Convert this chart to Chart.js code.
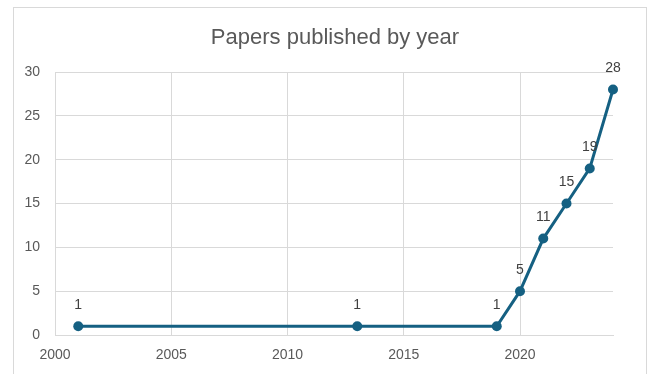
<!DOCTYPE html>
<html>
<head>
<meta charset="utf-8">
<script src="https://cdn.jsdelivr.net/npm/chart.js@4.4.1/dist/chart.umd.min.js"></script>
<style>
    html, body { margin: 0; padding: 0; background: #ffffff; }
    #wrap { width: 653px; height: 374px; }
</style>
</head>
<body>
<div id="wrap"><canvas id="papers-by-year"></canvas></div>
<script>
const years  = [2001, 2013, 2019, 2020, 2021, 2022, 2023, 2024];
const papers = [1, 1, 1, 5, 11, 15, 19, 28];

const chartTitle = 'Papers published by year';

const colors = {
    'line'  : '#156082',
    'grid'  : '#d9d9d9',
    'tick'  : '#595959',
    'label' : '#404040',
    'frame' : '#d9d9d9'
};

// frame round the whole chart plus the title, drawn by hand so it can sit off-centre
const chartFrame = {
    id: 'chartFrame',
    beforeDraw(chart) {
        const ctx = chart.ctx;
        ctx.save();
        ctx.strokeStyle = colors['frame'];
        ctx.lineWidth = 1;
        ctx.strokeRect(13.5, 7.5, 633, 420);

        ctx.fillStyle = colors['tick'];
        ctx.font = '22px "Liberation Sans", Arial, sans-serif';
        ctx.textAlign = 'center';
        ctx.textBaseline = 'alphabetic';
        ctx.fillText(chartTitle, 335, 44);
        ctx.restore();
    }
};

// value written above each point
const pointValues = {
    id: 'pointValues',
    afterDatasetsDraw(chart) {
        const ctx = chart.ctx;
        const meta = chart.getDatasetMeta(0);
        ctx.save();
        ctx.fillStyle = colors['label'];
        ctx.font = '14px "Liberation Sans", Arial, sans-serif';
        ctx.textAlign = 'center';
        ctx.textBaseline = 'middle';
        meta.data.forEach((pt, i) => {
            ctx.fillText(String(papers[i]), pt.x, pt.y - 21);
        });
        ctx.restore();
    }
};

const points = years.map((y, i) => ({ x: y, y: papers[i] }));

new Chart(document.getElementById('papers-by-year'), {
    type: 'line',
    data: {
        datasets: [{
            label: 'Papers',
            data: points,
            borderColor     : colors['line'],
            backgroundColor : colors['line'],
            borderWidth     : 3,
            pointRadius     : 5,
            pointBorderWidth: 0,
            pointHoverRadius: 5,
            tension         : 0,
            clip            : false
        }]
    },
    options: {
        responsive: true,
        maintainAspectRatio: false,
        animation: false,
        layout: {
            padding: { top: 72, left: 13, right: 40, bottom: 0 }
        },
        plugins: {
            legend: { display: false },
            title: { display: false },
            tooltip: { enabled: false }
        },
        scales: {
            x: {
                type: 'linear',
                min: 2000,
                max: 2024,
                grid: { color: colors['grid'], drawTicks: false },
                border: { color: colors['grid'] },
                ticks: {
                    stepSize: 5,
                    includeBounds: false,
                    padding: 12,
                    color: colors['tick'],
                    font: { family: '"Liberation Sans", Arial, sans-serif', size: 14 },
                    callback: (v) => String(v)
                },
                afterFit: (scale) => { scale.height = 39; }
            },
            y: {
                min: 0,
                max: 30,
                grid: { color: colors['grid'], drawTicks: false },
                border: { display: false },
                ticks: {
                    stepSize: 5,
                    padding: 15,
                    color: colors['tick'],
                    font: { family: '"Liberation Sans", Arial, sans-serif', size: 14 }
                },
                afterFit: (scale) => { scale.width = 42; }
            }
        }
    },
    plugins: [chartFrame, pointValues]
});
</script>
</body>
</html>
